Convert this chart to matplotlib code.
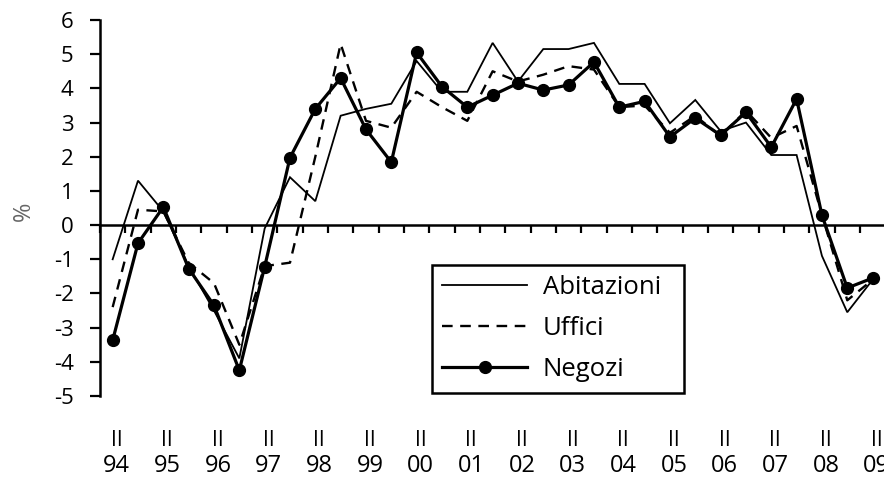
import matplotlib
matplotlib.use("Agg")
import matplotlib.pyplot as plt
import matplotlib.transforms as mtransforms

plt.rcParams['font.family'] = ['Open Sans', 'DejaVu Sans']

# Semesters from 1994 II to 2009 II
years = ["94", "95", "96", "97", "98", "99", "00", "01", "02", "03",
         "04", "05", "06", "07", "08", "09"]
semester_label = "II"

abitazioni = [-1.0, 1.3, 0.4, -1.2, -2.5, -3.9, -0.1, 1.4, 0.7, 3.2,
              3.4, 3.55, 4.8, 3.9, 3.9, 5.33, 4.2, 5.15, 5.15, 5.33,
              4.13, 4.13, 2.98, 3.66, 2.75, 3.0, 2.05, 2.05, -0.9, -2.55,
              -1.6]
uffici = [-2.4, 0.45, 0.4, -1.1, -1.7, -3.5, -1.2, -1.1, 2.0, 5.3,
          3.05, 2.85, 3.9, 3.45, 3.05, 4.5, 4.2, 4.4, 4.65, 4.55,
          3.45, 3.5, 2.7, 3.2, 2.6, 3.35, 2.55, 2.9, 0.3, -2.2,
          -1.6]
negozi = [-3.37, -0.53, 0.53, -1.27, -2.35, -4.25, -1.22, 1.97, 3.4, 4.3,
          2.8, 1.84, 5.05, 4.05, 3.45, 3.8, 4.15, 3.95, 4.1, 4.77,
          3.45, 3.62, 2.58, 3.13, 2.63, 3.3, 2.28, 3.69, 0.29, -1.84,
          -1.55]

series_names = ["Abitazioni", "Uffici", "Negozi"]
y_ticks = [6, 5, 4, 3, 2, 1, 0, -1, -2, -3, -4, -5]

x = list(range(len(negozi)))

W, H = 884, 483
fig = plt.figure(figsize=(W / 100, H / 100), dpi=100)
ax_left, ax_right, ax_top, ax_bottom = 100, 884, 20, 396
ax = fig.add_axes([ax_left / W, 1 - ax_bottom / H,
                   (ax_right - ax_left) / W, (ax_bottom - ax_top) / H])

ax.plot(x, abitazioni, color='black', lw=1.3, label=series_names[0],
        solid_joinstyle='miter', clip_on=False)
ax.plot(x, uffici, color='black', lw=1.7, ls=(0, (4.5, 3.2)),
        label=series_names[1], clip_on=False)
ax.plot(x, negozi, color='black', lw=2.3, marker='o', ms=8.5,
        label=series_names[2], clip_on=False)

ax.set_xlim(-0.5, 30.45)
ax.set_ylim(-5, 6)

for s in ['top', 'right']:
    ax.spines[s].set_visible(False)
ax.spines['left'].set_linewidth(1.8)
ax.spines['bottom'].set_position(('data', 0))
ax.spines['bottom'].set_linewidth(1.8)

ax.set_yticks(y_ticks)
ax.set_yticklabels([str(v) for v in y_ticks])
ax.tick_params(axis='y', direction='out', length=7, width=1.6,
               labelsize=16, pad=12)

ax.set_xticks([i + 0.5 for i in range(-1, 30)])
ax.tick_params(axis='x', direction='out', length=6, width=1.6,
               labelbottom=False)

ax.set_ylabel('%', fontsize=17, color='#666666')
ax.yaxis.set_label_coords(-0.082, 0.49)

trans = mtransforms.blended_transform_factory(ax.transData, fig.transFigure)
offset = mtransforms.ScaledTranslation(4 / 100, 0, fig.dpi_scale_trans)
for k, yr in enumerate(years):
    xi = 2 * k
    ax.text(xi, 1 - 440 / H, semester_label, transform=trans + offset,
            ha='center', va='center', fontsize=15, clip_on=False)
    ax.text(xi, 1 - 466 / H, yr, transform=trans + offset, ha='center',
            va='center', fontsize=17, clip_on=False)

leg = ax.legend(loc='upper left', bbox_to_anchor=(0.4235, 0.003, 0.3215, 0.345),
                mode='expand', borderaxespad=0, fancybox=False, fontsize=18.5,
                handlelength=3.3, handletextpad=0.6, labelspacing=0.62,
                borderpad=0.4, framealpha=1, edgecolor='black')
leg.get_frame().set_linewidth(1.8)

fig.savefig('out.png', dpi=100)
